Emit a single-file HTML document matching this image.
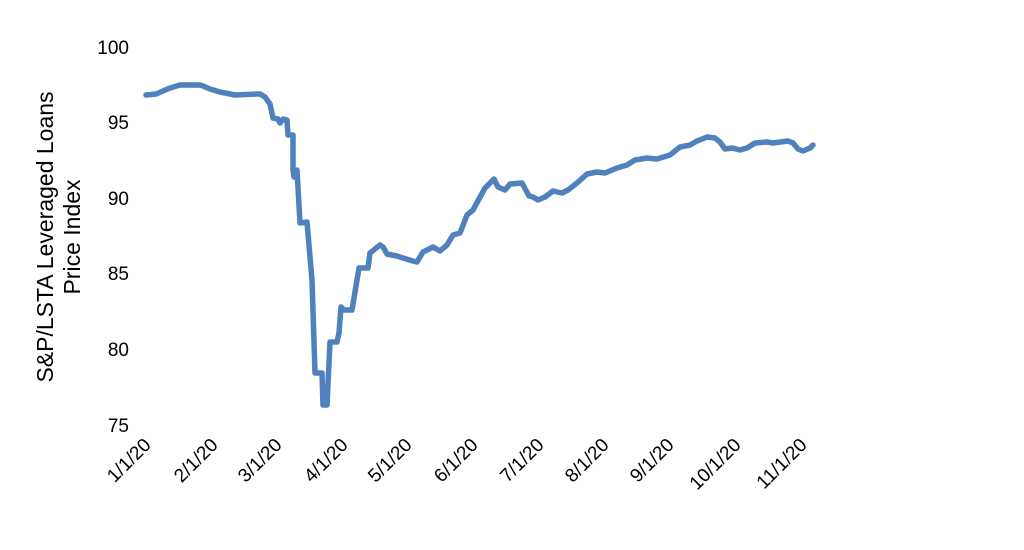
<!DOCTYPE html>
<html><head><meta charset="utf-8"><style>
html,body{margin:0;padding:0;background:#fff;}
svg{display:block;font-family:"Liberation Sans",Arial,sans-serif;}
</style></head><body>
<svg width="1024" height="550" viewBox="0 0 1024 550">
<rect width="1024" height="550" fill="#fff"/>
<g font-size="19" fill="#000" text-anchor="end">
<text x="129" y="54">100</text>
<text x="129" y="129">95</text>
<text x="129" y="205">90</text>
<text x="129" y="280">85</text>
<text x="129" y="356">80</text>
<text x="129" y="432">75</text>
</g>
<g font-size="19" fill="#000" text-anchor="end">
<text transform="translate(152,446) rotate(-45)">1/1/20</text>
<text transform="translate(219,446) rotate(-45)">2/1/20</text>
<text transform="translate(283,446) rotate(-45)">3/1/20</text>
<text transform="translate(349,446) rotate(-45)">4/1/20</text>
<text transform="translate(413,446) rotate(-45)">5/1/20</text>
<text transform="translate(479,446) rotate(-45)">6/1/20</text>
<text transform="translate(545,446) rotate(-45)">7/1/20</text>
<text transform="translate(610,446) rotate(-45)">8/1/20</text>
<text transform="translate(675,446) rotate(-45)">9/1/20</text>
<text transform="translate(742,446) rotate(-45)">10/1/20</text>
<text transform="translate(808,446) rotate(-45)">11/1/20</text>
</g>
<g font-size="23" fill="#000" text-anchor="middle" transform="translate(60,237) rotate(-90)">
<text x="0" y="-7">S&amp;P/LSTA Leveraged Loans</text>
<text x="0" y="20">Price Index</text>
</g>
<polyline fill="none" stroke="#4f81bd" stroke-width="5.5" stroke-linejoin="round" stroke-linecap="round"
points="146,95 156,94 170,88 180,85 200,85 203,86 210,89 220,92 235,95 257,94 260,94 265,97 270,104 273,118 278,119 280,123 283,119 287,120 288,135 293,135 293,170 294,177 297,170 300,223 307,222 312,280 315,373 322,373 323,405 327,405 330,342 337,342 339,333 341,307 344,310 352,310 359,268 368,268 370,253 380,245 383,247 387,254 397,256 403,258 413,261 417,262 423,252 433,247 440,251 447,245 453,235 460,233 467,215 473,210 485,188 494,179 498,187 505,190 510,184 522,183 529,196 533,197 538,200 545,197 553,191 562,193 568,190 577,183 587,174 597,172 605,173 617,168 627,165 635,160 647,158 657,159 670,155 680,147 690,145 697,141 707,137 715,138 720,142 725,149 732,148 740,150 747,148 755,143 767,142 773,143 788,141 793,143 798,149 803,151 810,148 813,145"/>
</svg>
</body></html>
